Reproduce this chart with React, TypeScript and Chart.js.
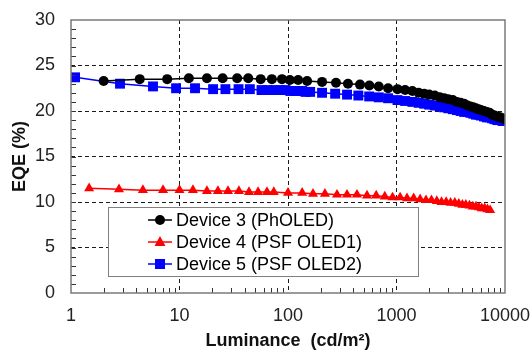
import React, { useEffect, useRef } from 'react';
import { Chart, registerables } from 'chart.js';

Chart.register(...registerables);

const device3Lum = [2.0, 4.3, 7.7, 12.2, 17.9, 25, 34, 43, 56, 71, 88, 104, 124, 150, 206, 277, 357, 461, 562, 686, 837, 1021, 1200, 1400, 1600, 1800, 2000, 2250, 2500, 2750, 3000, 3300, 3600, 3900, 4200, 4500, 4800, 5100, 5400, 5700, 6000, 6400, 6800, 7200, 7600, 8000, 8500, 9000, 9500, 10000];
const device3EQE = [23.3, 23.5, 23.5, 23.6, 23.6, 23.6, 23.6, 23.6, 23.5, 23.5, 23.5, 23.4, 23.4, 23.3, 23.2, 23.1, 23.0, 22.9, 22.8, 22.7, 22.5, 22.4, 22.3, 22.2, 22.0, 21.9, 21.8, 21.7, 21.5, 21.4, 21.3, 21.2, 21.0, 20.9, 20.8, 20.6, 20.5, 20.4, 20.3, 20.2, 20.1, 20.0, 19.9, 19.8, 19.6, 19.5, 19.4, 19.3, 19.2, 19.1];

const device4Lum = [1.47, 2.77, 4.6, 7.05, 10, 13.3, 17.9, 22.6, 28, 35.3, 43.7, 53, 64, 74, 100, 135, 170, 219, 283, 350, 432, 535, 650, 780, 920, 1080, 1250, 1440, 1650, 1870, 2100, 2350, 2600, 2870, 3150, 3450, 3750, 4050, 4350, 4700, 5050, 5400, 5750, 6100, 6500, 6900, 7300];
const device4EQE = [11.5, 11.4, 11.3, 11.3, 11.3, 11.3, 11.2, 11.2, 11.2, 11.2, 11.1, 11.1, 11.1, 11.1, 11.0, 11.0, 10.9, 10.9, 10.8, 10.8, 10.8, 10.7, 10.7, 10.6, 10.5, 10.5, 10.4, 10.4, 10.3, 10.2, 10.2, 10.1, 10.0, 10.0, 9.9, 9.9, 9.8, 9.7, 9.7, 9.6, 9.5, 9.5, 9.4, 9.3, 9.3, 9.2, 9.1];

const device5Lum = [1.09, 2.83, 5.7, 9.3, 13.9, 20.4, 26.5, 35, 44.5, 57, 65, 75, 85, 95, 105, 115, 125, 135, 145, 160, 206, 272, 350, 445, 560, 686, 837, 1021, 1200, 1400, 1600, 1800, 2000, 2250, 2500, 2750, 3000, 3300, 3600, 3900, 4200, 4500, 4800, 5100, 5400, 5700, 6000, 6400, 6800, 7200, 7600, 8000, 8500, 9000, 9500, 10000];
const device5EQE = [23.7, 23.0, 22.7, 22.5, 22.5, 22.4, 22.4, 22.4, 22.4, 22.3, 22.3, 22.3, 22.3, 22.3, 22.2, 22.2, 22.2, 22.2, 22.1, 22.1, 22.0, 21.9, 21.8, 21.7, 21.6, 21.5, 21.4, 21.2, 21.1, 21.0, 20.9, 20.8, 20.7, 20.6, 20.5, 20.4, 20.3, 20.2, 20.1, 20.0, 19.9, 19.9, 19.8, 19.7, 19.6, 19.6, 19.5, 19.4, 19.3, 19.3, 19.2, 19.1, 19.0, 19.0, 18.9, 18.9];

const seriesLabels = ['Device 3 (PhOLED)', 'Device 4 (PSF OLED1)', 'Device 5 (PSF OLED2)'];
const xTickValues = [1, 10, 100, 1000, 10000];
const yTickValues = [0, 5, 10, 15, 20, 25, 30];
const xTitle = 'Luminance  (cd/m\u00B2)';
const yTitle = 'EQE (%)';

const FONT = '"Liberation Sans", Arial, sans-serif';

const toPoints = (xs: number[], ys: number[]) => xs.map((x, i) => ({ x, y: ys[i] }));

const decorPlugin = {
  id: 'decor',
  afterDatasetsDraw(chart: any) {
    const ctx = chart.ctx;
    const { left, bottom } = chart.chartArea;
    const lx = left + 37, ly = bottom - 86, lw = 310, lh = 69;
    ctx.save();
    ctx.fillStyle = '#ffffff';
    ctx.fillRect(lx, ly, lw, lh);
    ctx.strokeStyle = '#808080';
    ctx.lineWidth = 1;
    ctx.strokeRect(lx + 0.5, ly + 0.5, lw, lh);
    chart.data.datasets.forEach((ds: any, i: number) => {
      const cy = ly + 13 + i * 22;
      const x0 = lx + 40, x1 = lx + 64, cx = (x0 + x1) / 2;
      ctx.strokeStyle = ds.borderColor;
      ctx.lineWidth = 1.5;
      ctx.beginPath();
      ctx.moveTo(x0, cy);
      ctx.lineTo(x1, cy);
      ctx.stroke();
      ctx.fillStyle = ds.pointBackgroundColor;
      ctx.beginPath();
      if (ds.pointStyle === 'circle') {
        ctx.arc(cx, cy, 5, 0, Math.PI * 2);
      } else if (ds.pointStyle === 'rect') {
        ctx.rect(cx - 5, cy - 5, 10, 10);
      } else {
        ctx.moveTo(cx, cy - 6);
        ctx.lineTo(cx + 5.5, cy + 4);
        ctx.lineTo(cx - 5.5, cy + 4);
        ctx.closePath();
      }
      ctx.fill();
      ctx.fillStyle = '#000';
      ctx.font = `18px ${FONT}`;
      ctx.textAlign = 'left';
      ctx.textBaseline = 'middle';
      ctx.fillText(ds.label, x1 + 4, cy + 1);
    });
    ctx.restore();
  },
  afterDraw(chart: any) {
    const ctx = chart.ctx;
    const { left, right, top, bottom } = chart.chartArea;
    const xs = chart.scales.x;
    const ys = chart.scales.y;
    ctx.save();
    ctx.strokeStyle = '#333';
    ctx.lineWidth = 1;
    ctx.beginPath();
    for (let d = 1; d < 10000; d *= 10) {
      for (let m = 2; m <= 9; m++) {
        const px = Math.round(xs.getPixelForValue(d * m)) + 0.5;
        ctx.moveTo(px, bottom);
        ctx.lineTo(px, bottom - 5);
      }
    }
    for (let v = 1; v < 30; v++) {
      const py = Math.round(ys.getPixelForValue(v)) + 0.5;
      ctx.moveTo(left, py);
      ctx.lineTo(left + 5, py);
    }
    ctx.stroke();
    ctx.strokeStyle = '#7a7a7a';
    ctx.lineWidth = 1.5;
    ctx.strokeRect(left, top, right - left, bottom - top);
    ctx.fillStyle = '#111';
    ctx.font = `bold 18px ${FONT}`;
    ctx.textAlign = 'center';
    ctx.textBaseline = 'middle';
    ctx.fillText(xTitle, (left + right) / 2, 341);
    ctx.translate(20, (top + bottom) / 2);
    ctx.rotate(-Math.PI / 2);
    ctx.fillText(yTitle, 0, 0);
    ctx.restore();
  },
};

export default function App() {
  const ref = useRef<HTMLCanvasElement | null>(null);
  useEffect(() => {
    document.body.style.margin = '0';
    document.body.style.overflow = 'hidden';
    if (!ref.current) return;
    const chart = new Chart(ref.current, {
      type: 'line',
      data: {
        datasets: [
          {
            label: seriesLabels[0],
            data: toPoints(device3Lum, device3EQE),
            borderColor: '#000000',
            backgroundColor: '#000000',
            pointBackgroundColor: '#000000',
            pointBorderColor: '#000000',
            pointStyle: 'circle',
            pointRadius: 5,
            borderWidth: 1.5,
            pointBorderWidth: 0,
          },
          {
            label: seriesLabels[1],
            data: toPoints(device4Lum, device4EQE),
            borderColor: '#ff0000',
            backgroundColor: '#ff0000',
            pointBackgroundColor: '#ff0000',
            pointBorderColor: '#ff0000',
            pointStyle: 'triangle',
            pointRadius: 5.8,
            borderWidth: 1.5,
            pointBorderWidth: 0,
          },
          {
            label: seriesLabels[2],
            data: toPoints(device5Lum, device5EQE),
            borderColor: '#0000ff',
            backgroundColor: '#0000ff',
            pointBackgroundColor: '#0000ff',
            pointBorderColor: '#0000ff',
            pointStyle: 'rect',
            pointRadius: 7,
            borderWidth: 1.5,
            pointBorderWidth: 0,
          },
        ],
      },
      options: {
        responsive: false,
        animation: false,
        layout: { padding: { top: 20, right: 26, left: 0, bottom: 0 } },
        plugins: { legend: { display: false }, tooltip: { enabled: false } },
        scales: {
          x: {
            type: 'logarithmic',
            min: 1,
            max: 10000,
            afterBuildTicks: (scale: any) => {
              scale.ticks = xTickValues.map((v) => ({ value: v }));
            },
            afterFit: (scale: any) => {
              scale.height = 57;
              scale.paddingLeft = 0;
              scale.paddingRight = 0;
            },
            ticks: {
              autoSkip: false,
              maxRotation: 0,
              padding: 12,
              color: '#222',
              font: { family: FONT, size: 18 },
              callback: (v: any) => String(v),
            },
            grid: {
              drawTicks: false,
              color: (c: any) => (c.tick && (c.tick.value === 1 || c.tick.value === 10000) ? 'rgba(0,0,0,0)' : '#1a1a1a'),
              lineWidth: 1,
            },
            border: { display: false, dash: [4, 3] },
          },
          y: {
            type: 'linear',
            min: 0,
            max: 30,
            afterBuildTicks: (scale: any) => {
              scale.ticks = yTickValues.map((v) => ({ value: v }));
            },
            afterFit: (scale: any) => {
              scale.width = 71;
              scale.paddingTop = 0;
              scale.paddingBottom = 0;
            },
            ticks: {
              padding: 16,
              color: '#222',
              font: { family: FONT, size: 18 },
            },
            grid: {
              drawTicks: false,
              color: (c: any) => (c.tick && (c.tick.value === 0 || c.tick.value === 30) ? 'rgba(0,0,0,0)' : '#1a1a1a'),
              lineWidth: 1,
            },
            border: { display: false, dash: [4, 3] },
          },
        },
      },
      plugins: [decorPlugin],
    } as any);
    return () => chart.destroy();
  }, []);
  return (
    <div style={{ width: 531, height: 350 }}>
      <canvas ref={ref} width={531} height={350} style={{ display: 'block' }} />
    </div>
  );
}
